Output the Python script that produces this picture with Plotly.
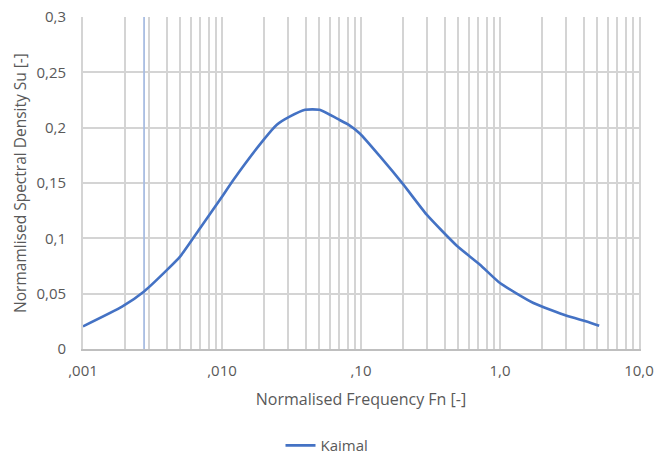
import plotly.graph_objects as go

# Kaimal spectrum: normalised frequency vs normalised spectral density
freq = [0.001, 0.00191, 0.00275, 0.00404, 0.00501, 0.00697, 0.0100, 0.0121,
        0.0199, 0.0248, 0.0309, 0.0396, 0.0502, 0.0708, 0.0812, 0.0985,
        0.137, 0.202, 0.297, 0.489, 0.718, 1.00, 1.74, 3.02, 4.20, 5.17]
density = [0.0204, 0.0382, 0.0520, 0.0717, 0.0837, 0.1093, 0.1376, 0.1530,
           0.1890, 0.2027, 0.2102, 0.2162, 0.2162, 0.2067, 0.2027, 0.1945,
           0.1740, 0.1485, 0.1214, 0.0933, 0.0762, 0.0596, 0.0416, 0.0301,
           0.0249, 0.0211]

# vertical marker line
marker_x = [0.00275, 0.00275]
marker_y = [0.0, 0.3]

x_tick_vals = [0.001, 0.01, 0.1, 1, 10]
x_tick_text = [",001", ",010", ",10", "1,0", "10,0"]
y_tick_vals = [0, 0.05, 0.1, 0.15, 0.2, 0.25, 0.3]
y_tick_text = ["0", "0,05", "0,1", "0,15", "0,2", "0,25", "0,3"]

FONT = "Open Sans"
TEXT = "#595959"
GRID = "#D4D4D4"

minor_vals = [m * 10 ** e for e in range(-3, 1) for m in range(2, 10)]

fig = go.Figure()
fig.add_trace(go.Scatter(
    x=marker_x, y=marker_y, mode="lines",
    line=dict(color="#A9BDE2", width=1.8),
    showlegend=False, hoverinfo="skip",
))
fig.add_trace(go.Scatter(
    x=freq, y=density, mode="lines", name="Kaimal",
    line=dict(color="#4472C4", width=2.6, shape="spline", smoothing=0.5),
))

fig.update_layout(
    width=654, height=457,
    margin=dict(l=83, r=15, t=17, b=108),
    paper_bgcolor="white", plot_bgcolor="white",
    font=dict(family=FONT, size=15, color=TEXT),
    showlegend=True,
    legend=dict(
        orientation="h", xref="container", yref="container",
        x=0.5, xanchor="center", y=0.025, yanchor="middle",
        font=dict(family=FONT, size=15, color=TEXT),
    ),
)

fig.update_xaxes(
    type="log", range=[-3, 1], automargin=False,
    tickmode="array", tickvals=x_tick_vals, ticktext=x_tick_text,
    showgrid=True, gridcolor=GRID, gridwidth=1.8,
    minor=dict(tickvals=minor_vals, showgrid=True, gridcolor=GRID, gridwidth=1.8),
    showline=True, linecolor="#BFBFBF", linewidth=1.6,
    ticks="", ticklabelstandoff=7,
    zeroline=False,
    title=dict(text="Normalised Frequency Fn [-]", standoff=15,
               font=dict(family=FONT, size=16, color=TEXT)),
    tickfont=dict(family=FONT, size=15, color=TEXT),
)
fig.update_yaxes(
    range=[0, 0.3], automargin=False,
    tickmode="array", tickvals=y_tick_vals, ticktext=y_tick_text,
    showgrid=True, gridcolor=GRID, gridwidth=1.8,
    showline=True, linecolor=GRID, linewidth=1.8, mirror=True,
    ticks="", ticklabelstandoff=12,
    zeroline=False,
    title=dict(text="Normamlised Spectral Density Su [-]", standoff=6,
               font=dict(family=FONT, size=15.5, color=TEXT)),
    tickfont=dict(family=FONT, size=15, color=TEXT),
)

fig.write_html("out.html")
